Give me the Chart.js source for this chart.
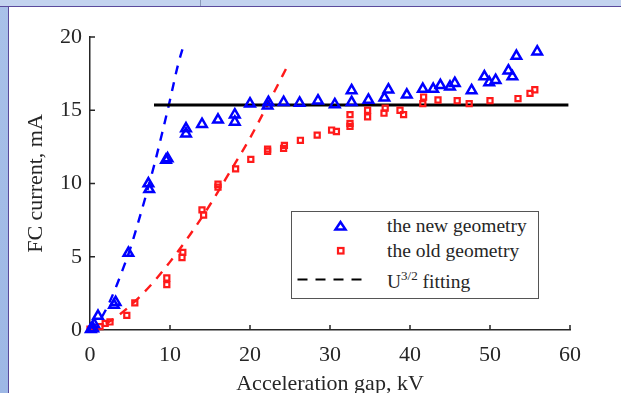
<!DOCTYPE html>
<html>
<head>
<meta charset="utf-8">
<script src="https://cdn.jsdelivr.net/npm/chart.js"></script>
<style>
  html, body { margin: 0; padding: 0; width: 621px; height: 393px; overflow: hidden; background: #fff; }
  .frameLeft { position: absolute; left: 0; top: 0; width: 8px; height: 393px; background: linear-gradient(#a9c1e9, #9db7e5); border-right: 1.5px solid #5a4a9c; }
  .frameTop { position: absolute; left: 0; top: 0; width: 621px; height: 6px; background: #c3d3ef; border-bottom: 1.5px solid #5a4a9c; }
  .frameTick { position: absolute; left: 200px; top: 0; width: 1px; height: 6px; background: #8a9ab8; }
  #myChart { position: absolute; left: 0; top: 0; }
  .legend { position: absolute; left: 291px; top: 211px; width: 248px; height: 88px; box-sizing: border-box;
    border: 1.5px solid #555; background: #fff; font-family: "Liberation Serif", serif; font-size: 19.5px; color: #262626; }
  .legend span { position: absolute; left: 95px; line-height: 1; white-space: nowrap; }
  .legend sup { font-size: 13px; vertical-align: 8.5px; line-height: 0; }
  .legend svg { position: absolute; left: 0; top: 0; }
</style>
</head>
<body>
<div class="frameLeft"></div>
<div class="frameTop"></div>
<div class="frameTick"></div>
<canvas id="myChart" width="621" height="400"></canvas>
<div class="legend">
  <svg width="245" height="85">
    <polygon points="43.5,17.5 53.5,17.5 48.5,10" fill="none" stroke="#0000ff" stroke-width="2.5"/>
    <rect x="46" y="36" width="5.5" height="5.5" fill="none" stroke="#ff1a1a" stroke-width="2.2"/>
    <line x1="5.5" y1="67.5" x2="77.5" y2="67.5" stroke="#000" stroke-width="2.2" stroke-dasharray="10,8"/>
  </svg>
  <span style="top:4px">the new geometry</span>
  <span style="top:29px">the old geometry</span>
  <span style="top:60px">U<sup>3/2</sup> fitting</span>
</div>
<script>
// new geometry (blue triangles)
const newX = [0.1, 0.4, 0.5, 1.0, 3.0, 3.2, 4.8, 7.3, 7.4, 9.5, 9.7, 12.0, 12.0, 14.0, 16.0, 18.1, 18.1, 20.0, 22.2, 22.3,
  24.2, 26.2, 28.5, 30.6, 32.7, 32.7, 34.8, 36.8, 37.3, 39.6, 41.6, 42.9, 43.8, 45.0, 45.6, 47.7, 49.3, 49.9, 50.7, 52.3,
  52.8, 53.3, 55.9];
const newY = [0.05, 0.1, 0.4, 0.95, 1.7, 1.9, 5.25, 10.0, 9.6, 11.6, 11.7, 13.4, 13.75, 14.05, 14.35, 14.2, 14.7, 15.45, 15.3, 15.55,
  15.55, 15.5, 15.65, 15.4, 15.55, 16.35, 15.7, 15.85, 16.4, 16.05, 16.45, 16.45, 16.7, 16.6, 16.85, 16.35, 17.3, 16.9, 17.05, 17.7,
  17.3, 18.7, 19.0];

// old geometry (red squares)
const oldX = [0.0, 0.6, 1.25, 1.9, 2.5, 4.6, 5.6, 9.6, 9.6, 11.5, 11.6, 14.0, 14.2, 16.0, 16.0, 18.2, 20.1, 22.2, 22.2, 24.2,
  24.3, 26.3, 28.4, 30.2, 30.8, 32.5, 32.5, 32.5, 34.7, 34.7, 36.75, 36.9, 38.75, 39.2, 41.6, 41.7, 43.5, 45.9, 47.4, 50.0,
  53.5, 55.0, 55.6];
const oldY = [0.05, 0.1, 0.23, 0.45, 0.55, 1.0, 1.85, 3.1, 3.55, 4.95, 5.3, 8.2, 7.85, 9.75, 9.95, 11.0, 11.65, 12.2, 12.35, 12.4,
  12.6, 12.95, 13.3, 13.65, 13.55, 13.9, 14.1, 14.7, 14.55, 15.0, 14.8, 15.15, 15.0, 14.7, 15.45, 15.9, 15.7, 15.65, 15.45, 15.65,
  15.8, 16.15, 16.4];

// U^3/2 fit curves
const fitNewX = [0, 1, 2, 3, 4, 5, 6, 7, 8, 9, 10, 11, 11.8];
const fitNewY = [0, 0.5, 1.4, 2.6, 4.0, 5.5, 7.3, 9.2, 11.2, 13.4, 15.7, 18.1, 19.6];
const fitOldX = [0, 2.5, 5, 7.5, 10, 12.5, 15, 17.5, 20, 22.5, 24.9];
const fitOldY = [0, 0.6, 1.65, 3.0, 4.65, 6.5, 8.55, 10.8, 13.1, 15.7, 18.25];

// saturation level
const satX = [8, 59.8];
const satY = [15.35, 15.35];

const xTicks = [0, 10, 20, 30, 40, 50, 60];
const yTicks = [0, 5, 10, 15, 20];

const axisColor = '#262626';
const serif = '"Liberation Serif", "Times New Roman", serif';

function pts(xs, ys) {
  return xs.map((x, i) => ({x: x, y: ys[i]}));
}

const innerTicks = {
  id: 'innerTicks',
  afterDraw(chart) {
    const {ctx, chartArea, scales} = chart;
    ctx.save();
    ctx.strokeStyle = axisColor;
    ctx.lineWidth = 1.5;
    ctx.beginPath();
    scales.x.ticks.forEach((t) => {
      if (t.value === 0) return;
      const px = scales.x.getPixelForValue(t.value);
      ctx.moveTo(px, chartArea.bottom);
      ctx.lineTo(px, chartArea.bottom - 5);
    });
    scales.y.ticks.forEach((t) => {
      if (t.value === 0) return;
      const py = scales.y.getPixelForValue(t.value);
      ctx.moveTo(chartArea.left, py);
      ctx.lineTo(chartArea.left + 5, py);
    });
    ctx.stroke();
    ctx.restore();
  }
};

function chart() {
  const data = {
    datasets: [
      {
        label: 'the new geometry',
        data: pts(newX, newY),
        pointStyle: 'triangle',
        pointRadius: 5.5,
        pointBorderWidth: 2.5,
        borderColor: '#0000ff',
        backgroundColor: 'rgba(0,0,0,0)',
        showLine: false,
        clip: false
      },
      {
        label: 'the old geometry',
        data: pts(oldX, oldY),
        pointStyle: 'rect',
        pointRadius: 3.6,
        pointBorderWidth: 2.2,
        borderColor: '#ff1a1a',
        backgroundColor: 'rgba(0,0,0,0)',
        showLine: false,
        clip: false
      },
      {
        label: 'saturation',
        data: pts(satX, satY),
        showLine: true,
        borderColor: '#000',
        borderWidth: 3,
        pointRadius: 0,
        clip: false
      },
      {
        label: 'fit new',
        data: pts(fitNewX, fitNewY),
        showLine: true,
        borderColor: '#0000ff',
        borderWidth: 2.4,
        borderDash: [9, 8],
        cubicInterpolationMode: 'monotone',
        pointRadius: 0,
        clip: false
      },
      {
        label: 'fit old',
        data: pts(fitOldX, fitOldY),
        showLine: true,
        borderColor: '#ff1a1a',
        borderWidth: 2.4,
        borderDash: [9, 8],
        cubicInterpolationMode: 'monotone',
        pointRadius: 0,
        clip: false
      }
    ]
  };

  const config = {
    type: 'scatter',
    data: data,
    options: {
      responsive: false,
      animation: false,
      layout: { padding: { left: 0, right: 51, top: 37, bottom: 0 } },
      plugins: { legend: { display: false }, tooltip: { enabled: false } },
      scales: {
        x: {
          type: 'linear',
          min: 0,
          max: 60,
          afterBuildTicks: (s) => { s.ticks = xTicks.map((v) => ({value: v})); },
          afterFit: (s) => { s.height = 70; },
          grid: { display: true, drawOnChartArea: false, drawTicks: false },
          border: { display: true, color: axisColor, width: 1.5 },
          ticks: { color: axisColor, padding: 12, font: { family: serif, size: 22 } },
          title: { display: true, text: 'Acceleration gap, kV', color: axisColor,
            font: { family: serif, size: 22 }, padding: { top: 0, bottom: 3 } }
        },
        y: {
          type: 'linear',
          min: 0,
          max: 20,
          afterBuildTicks: (s) => { s.ticks = yTicks.map((v) => ({value: v})); },
          afterFit: (s) => { s.width = 90; },
          grid: { display: true, drawOnChartArea: false, drawTicks: false },
          border: { display: true, color: axisColor, width: 1.5 },
          ticks: { color: axisColor, padding: 8, font: { family: serif, size: 22 } },
          title: { display: true, text: 'FC current, mA', color: axisColor,
            font: { family: serif, size: 22 }, padding: { top: 23, bottom: 0 } }
        }
      }
    },
    plugins: [innerTicks]
  };

  return new Chart(document.getElementById('myChart'), config);
}

document.addEventListener('DOMContentLoaded', () => chart());
</script>
</body>
</html>
